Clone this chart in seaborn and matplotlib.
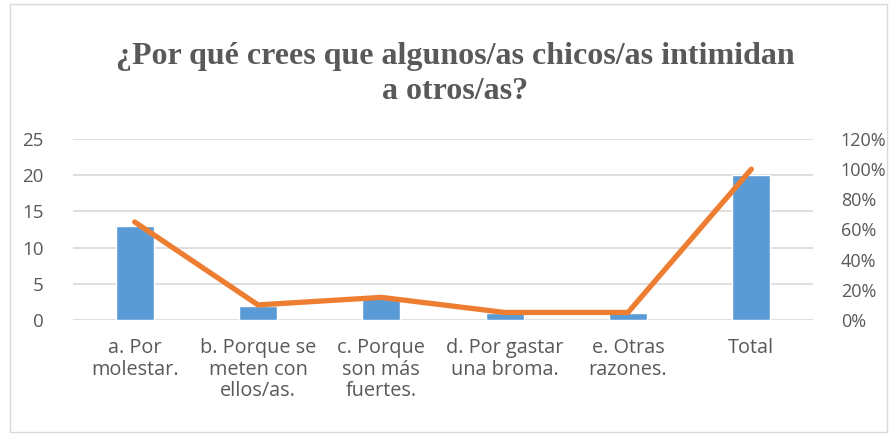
import matplotlib
matplotlib.use("Agg")
import matplotlib.pyplot as plt
import seaborn as sns
import pandas as pd
from matplotlib.ticker import FuncFormatter

categories = ["a. Por\nmolestar.", "b. Porque se\nmeten con\nellos/as.", "c. Porque\nson más\nfuertes.",
              "d. Por gastar\nuna broma.", "e. Otras\nrazones.", "Total"]
counts = [13, 2, 3, 1, 1, 20]
percents = [0.65, 0.10, 0.15, 0.05, 0.05, 1.00]
title = "¿Por qué crees que algunos/as chicos/as intimidan\na otros/as?"

df = pd.DataFrame({"cat": categories, "count": counts, "pct": percents})

sns.set_theme(style="white")
plt.rcParams['font.family'] = ['Open Sans', 'DejaVu Sans']

fig = plt.figure(figsize=(8.89, 4.34), dpi=100)
ax = fig.add_axes([73/889, 1-320/434, 740/889, 181/434])

sns.barplot(data=df, x="cat", y="count", color="#5B9BD5", width=0.31, saturation=1, ax=ax)
ax.set_ylim(0, 25)
ax.set_yticks([0, 5, 10, 15, 20, 25])
ax.grid(axis="y", color="#D9D9D9", linewidth=1.2)
ax.set_axisbelow(True)
for s in ax.spines.values():
    s.set_visible(False)
ax.set_xlabel("")
ax.set_ylabel("")
ax.tick_params(axis="y", length=0, labelsize=13.5, colors="#595959", pad=21)
ax.tick_params(axis="x", length=0, labelsize=14.3, colors="#595959", pad=13)
for lbl in ax.get_xticklabels():
    lbl.set_linespacing(1.1)

ax2 = ax.twinx()
sns.lineplot(x=list(range(len(categories))), y=percents, color="#ED7D31", linewidth=3.8, ax=ax2)
ax2.set_ylim(0, 1.2)
ax2.set_yticks([0, 0.2, 0.4, 0.6, 0.8, 1.0, 1.2])
ax2.yaxis.set_major_formatter(FuncFormatter(lambda v, p: f"{v*100:.0f}%"))
for s in ax2.spines.values():
    s.set_visible(False)
ax2.tick_params(axis="y", length=0, labelsize=13, colors="#595959", pad=20)
ax2.set_ylabel("")
ax.set_xlim(-0.5, 5.5)

fig.text(455/889, 1-74/434, title, ha="center", va="center", fontsize=23, fontweight="bold",
         family=["Liberation Serif"], color="#595959", linespacing=1.3)

fig.patches.append(plt.Rectangle((10/889, 2/434), 877/889, 428/434, transform=fig.transFigure,
                                 fill=False, edgecolor="#D9D9D9", linewidth=1))

fig.savefig("out.png", dpi=100)
